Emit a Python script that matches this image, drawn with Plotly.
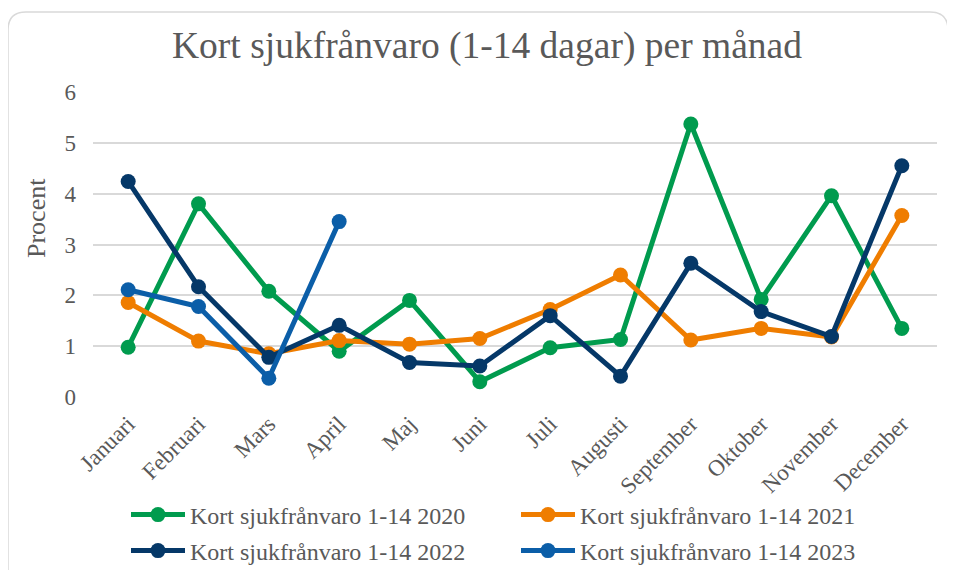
import plotly.graph_objects as go

months = ["Januari", "Februari", "Mars", "April", "Maj", "Juni", "Juli",
          "Augusti", "September", "Oktober", "November", "December"]

y2020 = [0.98, 3.80, 2.08, 0.90, 1.90, 0.30, 0.97, 1.13, 5.37, 1.92, 3.96, 1.35]
y2021 = [1.86, 1.10, 0.85, 1.11, 1.04, 1.15, 1.72, 2.40, 1.12, 1.35, 1.18, 3.57]
y2022 = [4.24, 2.17, 0.78, 1.41, 0.68, 0.61, 1.60, 0.41, 2.63, 1.68, 1.19, 4.55]
y2023 = [2.11, 1.78, 0.37, 3.45]

series = [
    ("Kort sjukfrånvaro 1-14 2020", y2020, "#009B4E", "legend"),
    ("Kort sjukfrånvaro 1-14 2021", y2021, "#EF7D00", "legend"),
    ("Kort sjukfrånvaro 1-14 2022", y2022, "#053868", "legend2"),
    ("Kort sjukfrånvaro 1-14 2023", y2023, "#0B5EA8", "legend2"),
]

serif = "Liberation Serif"
grey = "#595959"

# page body has an 8px margin, so work in screen pixels and shift
OFF = 8
W, H = 955 - OFF, 570 - OFF
L, R, T = 93 - OFF, 18, 92 - OFF
B = H - (397 - OFF)
pw, ph = W - L - R, H - T - B


def px(x):
    return (x - OFF - L) / pw


def py(y):
    return (H - B - (y - OFF)) / ph


def cx(x):
    return (x - OFF) / W


def cy(y):
    return 1 - (y - OFF) / H


fig = go.Figure()
for name, vals, color, leg in series:
    fig.add_trace(go.Scatter(
        x=months[:len(vals)], y=vals, name=name, mode="lines+markers",
        line=dict(color=color, width=5),
        marker=dict(color=color, size=15),
        legend=leg,
    ))

# card border with rounded corners
x0, x1, y0, y1 = px(8), px(948), py(12), py(590)
r, ry = 18 / pw, 18 / ph
card = (f"M {x0+r},{y0} L {x1-r},{y0} Q {x1},{y0} {x1},{y0-ry} "
        f"L {x1},{y1+ry} Q {x1},{y1} {x1-r},{y1} L {x0+r},{y1} "
        f"Q {x0},{y1} {x0},{y1+ry} L {x0},{y0-ry} Q {x0},{y0} {x0+r},{y0} Z")

leg_style = dict(orientation="h", xanchor="left", yanchor="middle",
                 xref="container", yref="container",
                 itemwidth=54, entrywidth=321, entrywidthmode="pixels",
                 font=dict(family=serif, size=24, color=grey),
                 bgcolor="rgba(0,0,0,0)")

fig.update_layout(
    width=W, height=H,
    margin=dict(l=L, r=R, t=T, b=B),
    paper_bgcolor="white", plot_bgcolor="white",
    font=dict(family=serif, color=grey, size=22),
    title=dict(text="Kort sjukfrånvaro (1-14 dagar) per månad",
               xref="container", x=cx(487), xanchor="center",
               yref="container", y=cy(45), yanchor="middle",
               font=dict(family=serif, size=37.5, color=grey)),
    xaxis=dict(type="category", range=[-0.5, 11.5], tickangle=-45,
               showgrid=False, showline=False, ticks="", automargin=False,
               ticklabelstandoff=8,
               tickfont=dict(family=serif, size=23, color=grey)),
    yaxis=dict(range=[0, 6], dtick=1, showgrid=True, gridcolor="#d9d9d9",
               gridwidth=1.5, zeroline=False, showline=False, automargin=False,
               ticklabelstandoff=16,
               tickfont=dict(family=serif, size=23, color=grey)),
    legend=dict(x=cx(126), y=cy(515), **leg_style),
    legend2=dict(x=cx(126), y=cy(551), **leg_style),
    shapes=[dict(type="path", xref="paper", yref="paper", path=card,
                 line=dict(color="#d9d9d9", width=1.5), layer="below")],
    annotations=[dict(text="Procent", textangle=-90, xref="paper", yref="paper",
                      x=px(36), y=py(218), xanchor="center", yanchor="middle",
                      showarrow=False,
                      font=dict(family=serif, size=26, color=grey))],
)

fig.write_html("out.html")
